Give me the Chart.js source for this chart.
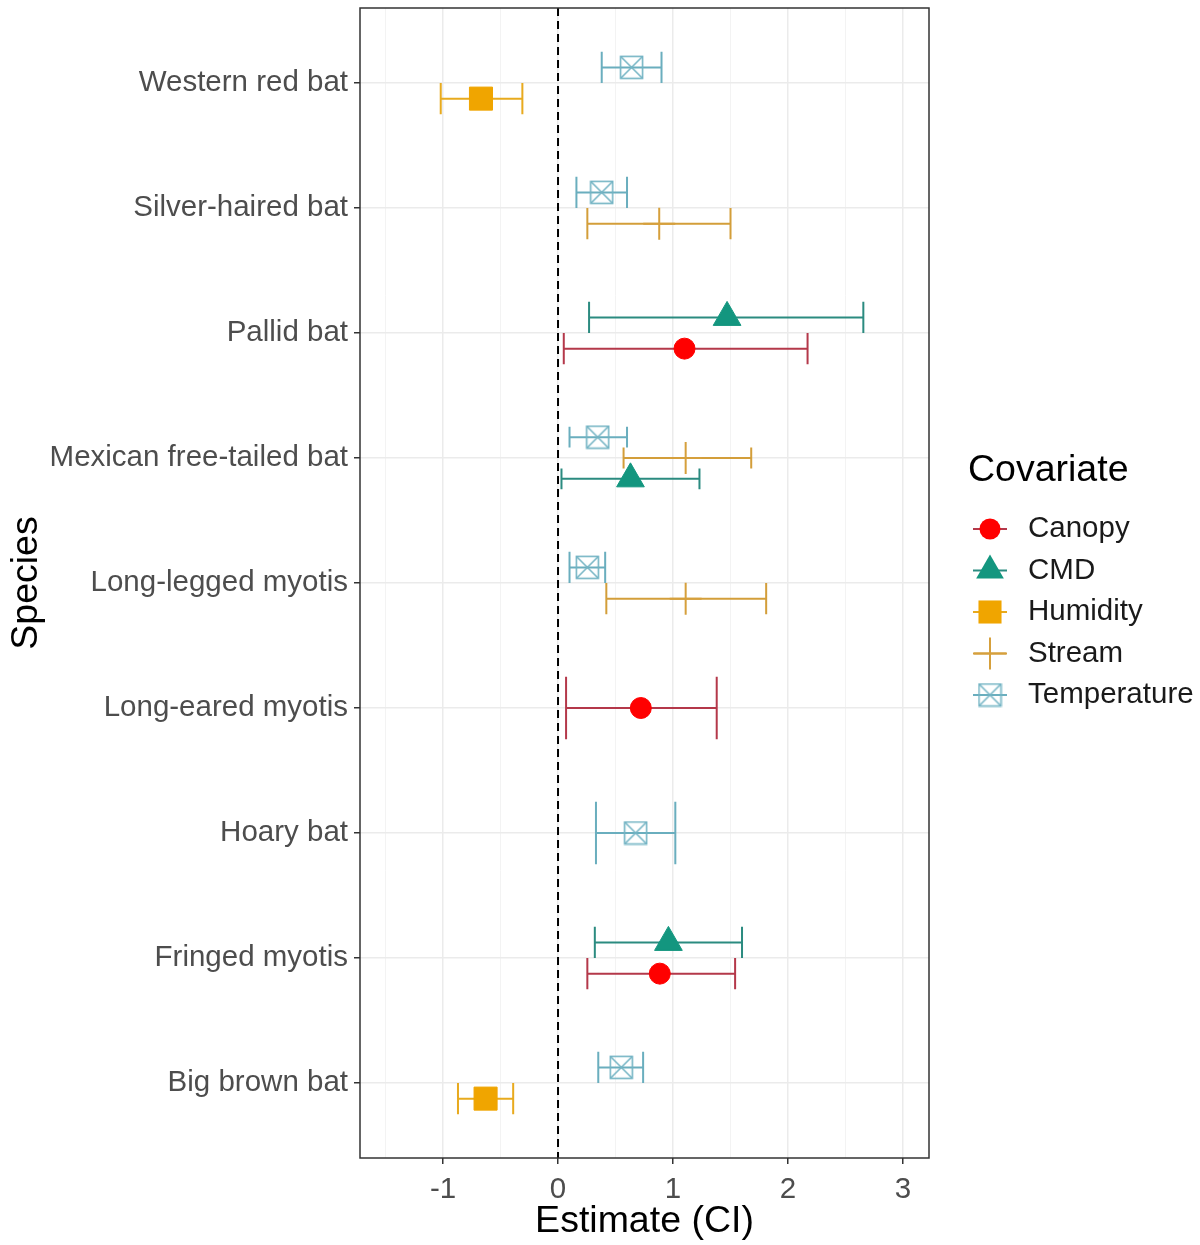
<!DOCTYPE html>
<html>
<head>
<meta charset="utf-8">
<script src="https://cdn.jsdelivr.net/npm/chart.js@4.4.0/dist/chart.umd.min.js"></script>
<style>
  html, body { margin: 0; padding: 0; background: #fff; }
  #wrap { width: 1200px; height: 1245px; position: relative; }
</style>
</head>
<body>
<div id="wrap"><canvas id="batChart"></canvas></div>
<script>
// species top to bottom
const species = ['Western red bat', 'Silver-haired bat', 'Pallid bat', 'Mexican free-tailed bat',
  'Long-legged myotis', 'Long-eared myotis', 'Hoary bat', 'Fringed myotis', 'Big brown bat'];
const covariates = ['Canopy', 'CMD', 'Humidity', 'Stream', 'Temperature'];

const canopyEst = [null, null, 1.10, null, null, 0.72, null, 0.885, null];
const canopyLo  = [null, null, 0.05, null, null, 0.07, null, 0.255, null];
const canopyHi  = [null, null, 2.17, null, null, 1.38, null, 1.54, null];

const cmdEst = [null, null, 1.47, 0.63, null, null, null, 0.96, null];
const cmdLo  = [null, null, 0.27, 0.03, null, null, null, 0.32, null];
const cmdHi  = [null, null, 2.655, 1.23, null, null, null, 1.60, null];

const humidityEst = [-0.67, null, null, null, null, null, null, null, -0.63];
const humidityLo  = [-1.02, null, null, null, null, null, null, null, -0.87];
const humidityHi  = [-0.31, null, null, null, null, null, null, null, -0.39];

const streamEst = [null, 0.88, null, 1.11, 1.11, null, null, null, null];
const streamLo  = [null, 0.255, null, 0.57, 0.42, null, null, null, null];
const streamHi  = [null, 1.50, null, 1.68, 1.81, null, null, null, null];

const tempEst = [0.64, 0.38, null, 0.345, 0.255, null, 0.675, null, 0.55];
const tempLo  = [0.38, 0.16, null, 0.10, 0.10, null, 0.33, null, 0.35];
const tempHi  = [0.90, 0.60, null, 0.60, 0.41, null, 1.02, null, 0.74];

const xGridValues = [-1.5, -1, -0.5, 0, 0.5, 1, 1.5, 2, 2.5, 3];

const estimates = [canopyEst, cmdEst, humidityEst, streamEst, tempEst];
const lows = [canopyLo, cmdLo, humidityLo, streamLo, tempLo];
const highs = [canopyHi, cmdHi, humidityHi, streamHi, tempHi];

const pointColors = ['#FF0000', '#13967F', '#F0A500', '#D6A03C', '#74B4C4'];
const barColors = ['#B4384A', '#2B8B80', '#E8AA1E', '#D39E3A', '#6AAEBE'];
const FONT = 'Arial, "Liberation Sans", sans-serif';
const DODGE = 0.5;
const PANEL_TOP = 8;

function makeBoxCross(color) {
  const c = document.createElement('canvas');
  c.width = 25; c.height = 25;
  const g = c.getContext('2d');
  g.strokeStyle = color;
  g.lineWidth = 1.6;
  g.strokeRect(1.5, 1.5, 22, 22);
  g.beginPath();
  g.moveTo(1.5, 1.5); g.lineTo(23.5, 23.5);
  g.moveTo(23.5, 1.5); g.lineTo(1.5, 23.5);
  g.stroke();
  return c;
}

const pointStyles = ['circle', 'triangle', 'rect', 'cross', makeBoxCross(pointColors[4])];
const pointRadii = [10.5, 16, 16.3, 16, 12];

// ggplot-like dodge: groups present in each species share DODGE width
const present = species.map((s, i) => estimates.map(e => e[i] !== null));
const nGroups = present.map(p => p.filter(Boolean).length);

const datasets = covariates.map((cov, k) => {
  const data = [];
  species.forEach((s, i) => {
    if (estimates[k][i] === null) return;
    const n = nGroups[i];
    const j = present[i].slice(0, k + 1).filter(Boolean).length;
    const offset = -(j - (n + 1) / 2) * DODGE / n;
    data.push({ x: estimates[k][i], y: i + offset, lo: lows[k][i], hi: highs[k][i], cap: DODGE / n });
  });
  return {
    label: cov,
    data: data,
    barColor: barColors[k],
    pointStyle: pointStyles[k],
    pointRadius: pointRadii[k],
    backgroundColor: pointColors[k],
    borderColor: pointColors[k],
    borderWidth: k === 3 ? 2 : 1
  };
});

function drawKey(ctx, k, cx, cy) {
  ctx.save();
  ctx.strokeStyle = barColors[k];
  ctx.lineWidth = 2;
  ctx.beginPath();
  ctx.moveTo(cx - 17, cy); ctx.lineTo(cx + 17, cy);
  ctx.stroke();
  ctx.fillStyle = pointColors[k];
  ctx.strokeStyle = pointColors[k];
  const r = pointRadii[k];
  const style = pointStyles[k];
  ctx.beginPath();
  if (style === 'circle') {
    ctx.arc(cx, cy, r, 0, Math.PI * 2);
    ctx.fill();
  } else if (style === 'triangle') {
    for (let a = 0; a < 3; a++) {
      const rad = a * 2 * Math.PI / 3;
      const px = cx + Math.sin(rad) * r, py = cy - Math.cos(rad) * r;
      a === 0 ? ctx.moveTo(px, py) : ctx.lineTo(px, py);
    }
    ctx.closePath();
    ctx.fill();
  } else if (style === 'rect') {
    const s = r * Math.SQRT1_2;
    ctx.fillRect(cx - s, cy - s, 2 * s, 2 * s);
  } else if (style === 'cross') {
    ctx.lineWidth = 2;
    ctx.moveTo(cx, cy - r); ctx.lineTo(cx, cy + r);
    ctx.moveTo(cx - r, cy); ctx.lineTo(cx + r, cy);
    ctx.stroke();
  } else {
    ctx.drawImage(style, cx - style.width / 2, cy - style.height / 2);
  }
  ctx.restore();
}

const errorBarPlugin = {
  id: 'errorBars',
  afterLayout(chart) {
    // pin the panel top, chart.js keeps extra room for the first y label
    const y = chart.scales.y;
    if (y.top !== PANEL_TOP) {
      y.top = PANEL_TOP;
      y.height = y.bottom - PANEL_TOP;
      y.configure();
      chart.chartArea.top = PANEL_TOP;
      chart.chartArea.height = chart.chartArea.bottom - PANEL_TOP;
    }
  },
  beforeDatasetsDraw(chart) {
    const { ctx, chartArea, scales: { x, y } } = chart;
    ctx.save();
    ctx.beginPath();
    ctx.rect(chartArea.left, chartArea.top, chartArea.right - chartArea.left, chartArea.bottom - chartArea.top);
    ctx.clip();
    // dashed zero line
    const x0 = x.getPixelForValue(0);
    ctx.strokeStyle = '#000';
    ctx.lineWidth = 2;
    ctx.setLineDash([8, 5]);
    ctx.beginPath();
    ctx.moveTo(x0, chartArea.top);
    ctx.lineTo(x0, chartArea.bottom);
    ctx.stroke();
    ctx.setLineDash([]);
    chart.data.datasets.forEach(ds => {
      ctx.strokeStyle = ds.barColor;
      ctx.lineWidth = 2;
      ds.data.forEach(p => {
        const py = y.getPixelForValue(p.y);
        const half = Math.abs(y.getPixelForValue(p.y + p.cap / 2) - py);
        const xl = x.getPixelForValue(p.lo);
        const xh = x.getPixelForValue(p.hi);
        ctx.beginPath();
        ctx.moveTo(xl, py); ctx.lineTo(xh, py);
        ctx.moveTo(xl, py - half); ctx.lineTo(xl, py + half);
        ctx.moveTo(xh, py - half); ctx.lineTo(xh, py + half);
        ctx.stroke();
      });
    });
    ctx.restore();
  },
  afterDraw(chart) {
    const { ctx, chartArea } = chart;
    ctx.save();
    ctx.strokeStyle = '#333333';
    ctx.lineWidth = 1.5;
    ctx.strokeRect(chartArea.left, chartArea.top, chartArea.right - chartArea.left, chartArea.bottom - chartArea.top);

    // legend
    ctx.fillStyle = '#000';
    ctx.textBaseline = 'middle';
    ctx.textAlign = 'left';
    ctx.font = '37.5px ' + FONT;
    ctx.fillText('Covariate', 968, 471);
    ctx.font = '29.5px ' + FONT;
    covariates.forEach((cov, k) => {
      const cy = 529 + k * 41.5;
      drawKey(ctx, k, 990, cy);
      ctx.fillStyle = '#1a1a1a';
      ctx.fillText(cov, 1028, cy);
    });
    ctx.restore();
  }
};

const ctx = document.getElementById('batChart').getContext('2d');
new Chart(ctx, {
  type: 'scatter',
  data: { datasets: datasets },
  plugins: [errorBarPlugin],
  options: {
    responsive: true,
    maintainAspectRatio: false,
    animation: false,
    events: [],
    layout: { padding: { top: PANEL_TOP, right: 271, bottom: 0, left: 0 } },
    plugins: {
      legend: { display: false },
      tooltip: { enabled: false }
    },
    scales: {
      x: {
        type: 'linear',
        min: -1.722,
        max: 3.226,
        afterBuildTicks: scale => { scale.ticks = xGridValues.map(v => ({ value: v })); },
        afterFit: scale => { scale.height = 87; scale.paddingLeft = 0; scale.paddingRight = 0; },
        border: { display: false },
        grid: {
          color: c => Number.isInteger(c.tick.value) ? '#EBEBEB' : '#F3F3F3',
          lineWidth: c => Number.isInteger(c.tick.value) ? 1.5 : 1,
          tickColor: c => Number.isInteger(c.tick.value) ? '#333333' : 'rgba(0,0,0,0)',
          tickLength: 6,
          tickWidth: 1.5
        },
        ticks: {
          autoSkip: false,
          maxRotation: 0,
          padding: 8,
          color: '#4D4D4D',
          font: { family: FONT, size: 29.5 },
          callback: v => Number.isInteger(v) ? String(v) : ''
        },
        title: {
          display: true,
          text: 'Estimate (CI)',
          color: '#000',
          font: { family: FONT, size: 37.5 },
          padding: { top: 0, bottom: 1 }
        }
      },
      y: {
        type: 'linear',
        min: -0.6,
        max: 8.6,
        reverse: true,
        afterBuildTicks: scale => { scale.ticks = species.map((s, i) => ({ value: i })); },
        afterFit: scale => { scale.width = 360; },
        border: { display: false },
        grid: {
          color: '#EBEBEB',
          lineWidth: 1.5,
          tickColor: '#333333',
          tickLength: 6,
          tickWidth: 1.5
        },
        ticks: {
          autoSkip: false,
          padding: 6,
          color: '#4D4D4D',
          font: { family: FONT, size: 29.5 },
          callback: v => species[v]
        },
        title: {
          display: true,
          text: 'Species',
          color: '#000',
          font: { family: FONT, size: 37.5 },
          padding: { top: 4, bottom: 0 }
        }
      }
    }
  }
});
</script>
</body>
</html>
